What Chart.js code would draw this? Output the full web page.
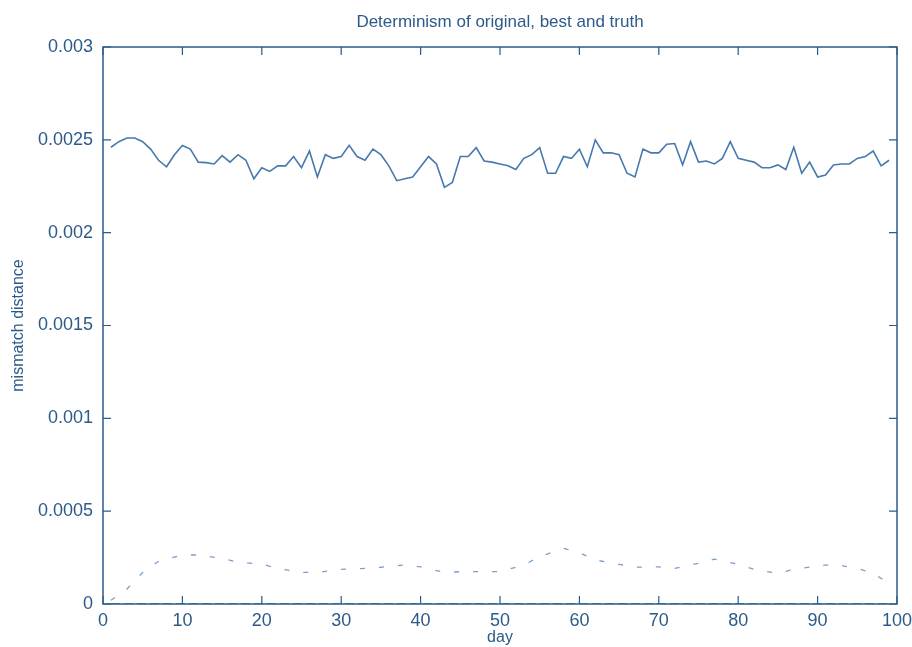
<!DOCTYPE html>
<html>
<head>
<meta charset="utf-8">
<title>Determinism of original, best and truth</title>
<script src="https://cdn.jsdelivr.net/npm/chart.js@4.4.1/dist/chart.umd.min.js"></script>
<style>
  html, body { margin: 0; padding: 0; background: #ffffff; }
  #wrap { width: 912px; height: 647px; position: relative; }
</style>
</head>
<body>
<div id="wrap"><canvas id="chart"></canvas></div>
<script>
// Days of the "original" run.
var days = [
  1, 2, 3, 4, 5, 6, 7, 8, 9, 10, 11, 12, 13, 14, 15, 16, 17, 18, 19, 20,
  21, 22, 23, 24, 25, 26, 27, 28, 29, 30, 31, 32, 33, 34, 35, 36, 37, 38, 39, 40,
  41, 42, 43, 44, 45, 46, 47, 48, 49, 50, 51, 52, 53, 54, 55, 56, 57, 58, 59, 60,
  61, 62, 63, 64, 65, 66, 67, 68, 69, 70, 71, 72, 73, 74, 75, 76, 77, 78, 79, 80,
  81, 82, 83, 84, 85, 86, 87, 88, 89, 90, 91, 92, 93, 94, 95, 96, 97, 98, 99
];

var originalValues = [
  0.00246, 0.00249, 0.00251, 0.00251, 0.00249, 0.00245, 0.00239, 0.002355, 0.00242, 0.00247,
  0.00245, 0.00238, 0.002377, 0.00237, 0.002415, 0.00238, 0.00242, 0.00239, 0.00229, 0.00235,
  0.00233, 0.00236, 0.00236, 0.00241, 0.00235, 0.00244, 0.0023, 0.00242, 0.0024, 0.00241,
  0.00247, 0.00241, 0.00239, 0.00245, 0.00242, 0.00236, 0.00228, 0.00229, 0.0023, 0.002355,
  0.00241, 0.00237, 0.002244, 0.00227, 0.00241, 0.00241, 0.002458, 0.002386, 0.00238, 0.00237,
  0.00236, 0.00234, 0.0024, 0.00242, 0.002458, 0.00232, 0.00232, 0.00241, 0.0024, 0.00245,
  0.002355, 0.0025, 0.00243, 0.00243, 0.00242, 0.00232, 0.0023, 0.00245, 0.00243, 0.00243,
  0.002476, 0.00248, 0.002365, 0.00249, 0.00238, 0.002386, 0.00237, 0.0024, 0.00249, 0.0024,
  0.00239, 0.00238, 0.00235, 0.00235, 0.002365, 0.00234, 0.00246, 0.00232, 0.00238, 0.0023,
  0.00231, 0.002365, 0.00237, 0.00237, 0.0024, 0.00241, 0.00244, 0.00236, 0.00239
];

// "best" run, read at the days where the dashes sit.
var bestDays = [
  1, 3, 5, 7, 10, 12, 15, 17, 20, 22, 25, 27, 30, 33, 35, 38, 40, 43, 45, 48,
  50, 53, 55, 58, 60, 62, 65, 67, 70, 72, 75, 77, 80, 82, 85, 87, 90, 92, 95, 97, 99
];
var bestValues = [
  0.00002, 0.00008, 0.00017, 0.00023, 0.000264, 0.000264, 0.000246, 0.000225, 0.000215, 0.000192,
  0.00017, 0.00017, 0.000187, 0.000192, 0.000198, 0.00021, 0.0002, 0.00017, 0.000174, 0.000174,
  0.000174, 0.00021, 0.000255, 0.0003, 0.000276, 0.000237, 0.000214, 0.000198, 0.0002, 0.000192,
  0.000219, 0.000242, 0.000214, 0.000187, 0.000165, 0.000187, 0.000205, 0.000214, 0.000192, 0.000165,
  0.000111
];

// "truth" lies on zero.
var truthDays = [1, 99];
var truthValues = [0, 0];

var xTicks = [0, 10, 20, 30, 40, 50, 60, 70, 80, 90, 100];
var yTicks = [0, 0.0005, 0.001, 0.0015, 0.002, 0.0025, 0.003];
var yTickLabels = ['0', '0.0005', '0.001', '0.0015', '0.002', '0.0025', '0.003'];

var chartTitle = 'Determinism of original, best and truth';
var inkColor = '#2c5b8a';
var fontFamily = '"Liberation Sans", Arial, Helvetica, sans-serif';

function toPoints(xs, ys) {
  return xs.map(function (x, i) {
    return { x: x, y: ys[i] };
  });
}

/**
 * Frame with gnuplot-like inward ticks on all four sides,
 * and the title centred over the plot area.
 */
var frameTicks = {
  id: 'frameTicks',
  afterDatasetsDraw: function (chart) {
    var ctx = chart.ctx;
    var area = chart.chartArea;
    var xs = chart.scales.x;
    var ys = chart.scales.y;
    var len = 8;

    ctx.save();
    ctx.strokeStyle = inkColor;
    ctx.lineWidth = 1.5;
    ctx.strokeRect(area.left, area.top, area.right - area.left, area.bottom - area.top);

    ctx.lineWidth = 1.2;
    ctx.beginPath();
    xTicks.forEach(function (v) {
      var px = xs.getPixelForValue(v);
      ctx.moveTo(px, area.bottom);
      ctx.lineTo(px, area.bottom - len);
      ctx.moveTo(px, area.top);
      ctx.lineTo(px, area.top + len);
    });
    yTicks.forEach(function (v) {
      var py = ys.getPixelForValue(v);
      ctx.moveTo(area.left, py);
      ctx.lineTo(area.left + len, py);
      ctx.moveTo(area.right, py);
      ctx.lineTo(area.right - len, py);
    });
    ctx.stroke();

    // Title
    ctx.fillStyle = inkColor;
    ctx.font = '17px ' + fontFamily;
    ctx.textAlign = 'center';
    ctx.textBaseline = 'middle';
    ctx.fillText(chartTitle, (area.left + area.right) / 2, 22);
    ctx.restore();
  }
};

var ctx = document.getElementById('chart').getContext('2d');

new Chart(ctx, {
  type: 'line',
  data: {
    datasets: [
      {
        label: 'original',
        data: toPoints(days, originalValues),
        borderColor: '#4679ae',
        borderWidth: 1.6,
        pointRadius: 0,
        tension: 0,
        fill: false
      },
      {
        label: 'best',
        data: toPoints(bestDays, bestValues),
        borderColor: '#76a1cc',
        borderWidth: 1.3,
        borderDash: [5, 14],
        pointRadius: 0,
        tension: 0,
        fill: false
      },
      {
        label: 'truth',
        data: toPoints(truthDays, truthValues),
        borderColor: '#3a5f8a',
        borderWidth: 1.5,
        borderDash: [9, 4],
        pointRadius: 0,
        tension: 0,
        fill: false
      }
    ]
  },
  options: {
    responsive: true,
    maintainAspectRatio: false,
    animation: false,
    layout: { padding: { left: 0, right: 15, top: 47, bottom: 0 } },
    plugins: {
      legend: { display: false },
      tooltip: { enabled: false },
      title: { display: false }
    },
    scales: {
      x: {
        type: 'linear',
        min: 0,
        max: 100,
        grid: { display: false, drawTicks: false },
        border: { display: false },
        ticks: {
          stepSize: 10,
          color: inkColor,
          padding: 6,
          maxRotation: 0,
          font: { family: fontFamily, size: 18 }
        },
        title: {
          display: true,
          text: 'day',
          color: inkColor,
          font: { family: fontFamily, size: 16 },
          padding: { top: 0, bottom: 0 }
        },
        afterFit: function (scale) {
          scale.height = 43;
          scale.paddingLeft = 0;
          scale.paddingRight = 0;
        }
      },
      y: {
        type: 'linear',
        min: 0,
        max: 0.003,
        grid: { display: false, drawTicks: false },
        border: { display: false },
        afterBuildTicks: function (scale) {
          scale.ticks = yTicks.map(function (v) { return { value: v }; });
        },
        ticks: {
          color: inkColor,
          padding: 10,
          font: { family: fontFamily, size: 18 },
          callback: function (value) {
            var i = yTicks.indexOf(value);
            return i >= 0 ? yTickLabels[i] : '';
          }
        },
        title: {
          display: true,
          text: 'mismatch distance',
          color: inkColor,
          font: { family: fontFamily, size: 16 },
          padding: { top: 9, bottom: 0 }
        },
        afterFit: function (scale) {
          scale.width = 103;
          scale.paddingTop = 0;
          scale.paddingBottom = 0;
        }
      }
    }
  },
  plugins: [frameTicks]
});
</script>
</body>
</html>
